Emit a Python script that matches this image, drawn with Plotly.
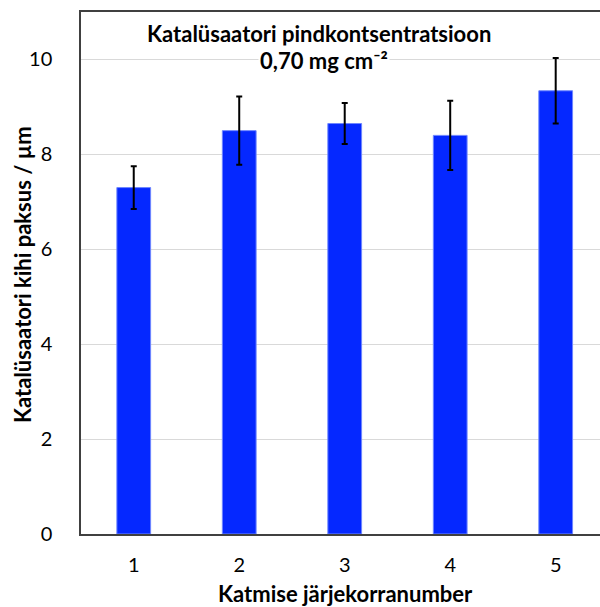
import plotly.graph_objects as go

categories = [1, 2, 3, 4, 5]
thickness = [7.30, 8.50, 8.65, 8.40, 9.34]
errors = [0.45, 0.72, 0.43, 0.73, 0.69]
y_ticks = [0, 2, 4, 6, 8, 10]

title_line1 = "Katalüsaatori pindkontsentratsioon"
title_line2 = "0,70 mg cm⁻²"
x_title = "Katmise järjekorranumber"
y_title = "Katalüsaatori kihi paksus / µm"

FONT = "Lato, Open Sans, sans-serif"

# plot area in pixels
L, R, T, B = 81, 600, 12, 534
W, H = R - L, B - T


def px(x):
    return (x - L) / W


def py(y):
    return (B - y) / H


fig = go.Figure(
    go.Bar(
        x=categories,
        y=thickness,
        width=0.32,
        marker=dict(color="#0528FF", line=dict(color="#6E86FF", width=1)),
        error_y=dict(type="data", array=errors, visible=True,
                     color="black", thickness=2, width=3),
    )
)

fig.update_layout(
    width=600, height=607,
    margin=dict(l=L, r=600 - R, t=T, b=607 - B),
    plot_bgcolor="white", paper_bgcolor="white",
    showlegend=False,
    font=dict(family=FONT, color="black", size=20),
    xaxis=dict(
        range=[0.5, 5.42], tickvals=categories, ticktext=[str(c) for c in categories],
        showline=True, linecolor="#404040", linewidth=1.5, mirror=True,
        showgrid=False, zeroline=False, ticks="", ticklabelstandoff=12,
    ),
    yaxis=dict(
        range=[0, 11], tickvals=y_ticks,
        showline=True, linecolor="#404040", linewidth=1.5,
        showgrid=True, gridcolor="#D9D9D9", gridwidth=1, zeroline=False,
        ticks="", ticklabelstandoff=23,
    ),
    annotations=[
        dict(text="<b>" + title_line1 + "</b>", xref="paper", yref="paper",
             x=px(319), y=py(33), showarrow=False, font=dict(size=22),
             xanchor="center", yanchor="middle"),
        dict(text="<b>" + title_line2 + "</b>", xref="paper", yref="paper",
             x=px(324), y=py(60), showarrow=False, font=dict(size=22),
             xanchor="center", yanchor="middle", bgcolor="white"),
        dict(text="<b>" + x_title + "</b>", xref="paper", yref="paper",
             x=px(345), y=py(593), showarrow=False, font=dict(size=22),
             xanchor="center", yanchor="middle"),
        dict(text="<b>" + y_title + "</b>", xref="paper", yref="paper",
             x=px(22), y=py(275), showarrow=False, font=dict(size=22),
             xanchor="center", yanchor="middle", textangle=-90),
    ],
)

fig.write_html("out.html")
